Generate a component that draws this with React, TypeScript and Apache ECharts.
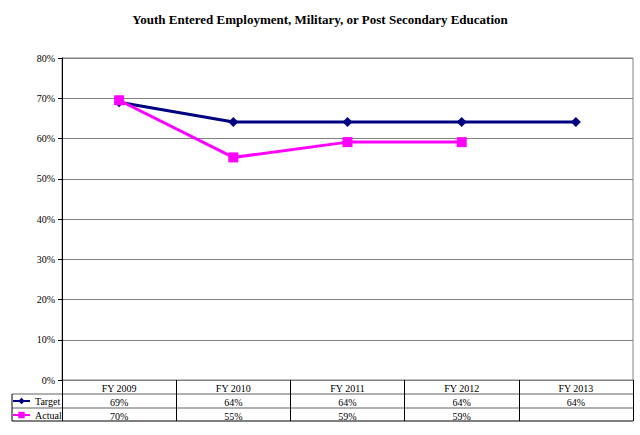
import React, { useEffect, useRef } from "react";
import * as echarts from "echarts";

const TITLE = "Youth Entered Employment, Military, or Post Secondary Education";
const categories = ["FY 2009", "FY 2010", "FY 2011", "FY 2012", "FY 2013"];
const targetValues: (number | null)[] = [69, 64.1, 64.1, 64.1, 64.1];
const actualValues: (number | null)[] = [69.5, 55.3, 59.1, 59.1, null];
const yTicks = { min: 0, max: 80, interval: 10 };

const FONT = "'Liberation Serif', 'Times New Roman', serif";

const fmt = (v: number | null) => (v == null ? " " : Math.round(v) + "%");

export default function App() {
  const ref = useRef<HTMLDivElement>(null);
  useEffect(() => {
    if (!ref.current) return;
    const chart = echarts.init(ref.current, undefined, { renderer: "svg" });
    const gl = 62, gr = 633, gt = 58, gb = 380;
    const row1 = 394, row2 = 408, rowEnd = 421, tableLeft = 12;
    chart.setOption({
      animation: false,
      backgroundColor: "#ffffff",
      title: {
        text: TITLE,
        left: "center",
        top: 8,
        textStyle: { fontFamily: FONT, fontSize: 13, fontWeight: "bold", color: "#000" },
      },
      grid: {
        left: gl,
        right: 640 - gr,
        top: gt,
        bottom: 435 - gb,
        show: true,
        borderColor: "#808080",
        borderWidth: 1,
        backgroundColor: "transparent",
      },
      legend: {
        orient: "vertical",
        left: 12,
        top: row1 + 1,
        itemWidth: 17,
        itemHeight: 8,
        itemGap: 2,
        padding: 0,
        textStyle: { fontFamily: FONT, fontSize: 10, color: "#000", lineHeight: 12 },
        data: ["Target", "Actual"],
      },
      xAxis: {
        type: "category",
        data: categories,
        boundaryGap: true,
        axisLine: { show: true, lineStyle: { color: "#808080", width: 1 } },
        axisTick: {
          show: true,
          alignWithLabel: false,
          interval: 0,
          length: rowEnd - gb,
          lineStyle: { color: "#000", width: 1 },
        },
        axisLabel: {
          interval: 0,
          margin: 1,
          fontFamily: FONT,
          fontSize: 10,
          color: "#000",
          lineHeight: 14,
          formatter: (val: string, idx: number) =>
            `${val}\n${fmt(targetValues[idx])}\n${fmt(actualValues[idx])}`,
        },
        splitLine: { show: false },
      },
      yAxis: {
        type: "value",
        min: yTicks.min,
        max: yTicks.max,
        interval: yTicks.interval,
        axisLine: { show: true, lineStyle: { color: "#000", width: 1 } },
        axisTick: { show: true, length: 4, lineStyle: { color: "#000" } },
        axisLabel: {
          margin: 7,
          fontFamily: FONT,
          fontSize: 10,
          color: "#000",
          formatter: "{value}%",
        },
        splitLine: { show: true, lineStyle: { color: "#808080", width: 1 } },
      },
      series: [
        {
          name: "Target",
          type: "line",
          data: targetValues,
          symbol: "diamond",
          symbolSize: 10,
          lineStyle: { color: "#000080", width: 3 },
          itemStyle: { color: "#000080" },
          connectNulls: false,
        },
        {
          name: "Actual",
          type: "line",
          data: actualValues,
          symbol: "rect",
          symbolSize: 10,
          lineStyle: { color: "#FF00FF", width: 3 },
          itemStyle: { color: "#FF00FF" },
          connectNulls: false,
        },
      ],
      graphic: [
        {
          type: "line",
          shape: { x1: tableLeft, y1: row1, x2: gr, y2: row1 },
          style: { stroke: "#606060", lineWidth: 1 },
        },
        {
          type: "line",
          shape: { x1: tableLeft, y1: row2, x2: gr, y2: row2 },
          style: { stroke: "#606060", lineWidth: 1 },
        },
        {
          type: "line",
          shape: { x1: tableLeft, y1: rowEnd, x2: gr, y2: rowEnd },
          style: { stroke: "#000", lineWidth: 1 },
        },
        {
          type: "line",
          shape: { x1: tableLeft, y1: row1, x2: tableLeft, y2: rowEnd },
          style: { stroke: "#000", lineWidth: 1 },
        },
      ],
    });
    return () => chart.dispose();
  }, []);
  return (
    <div
      ref={ref}
      style={{ position: "fixed", left: 0, top: 0, width: 640, height: 435 }}
    />
  );
}
